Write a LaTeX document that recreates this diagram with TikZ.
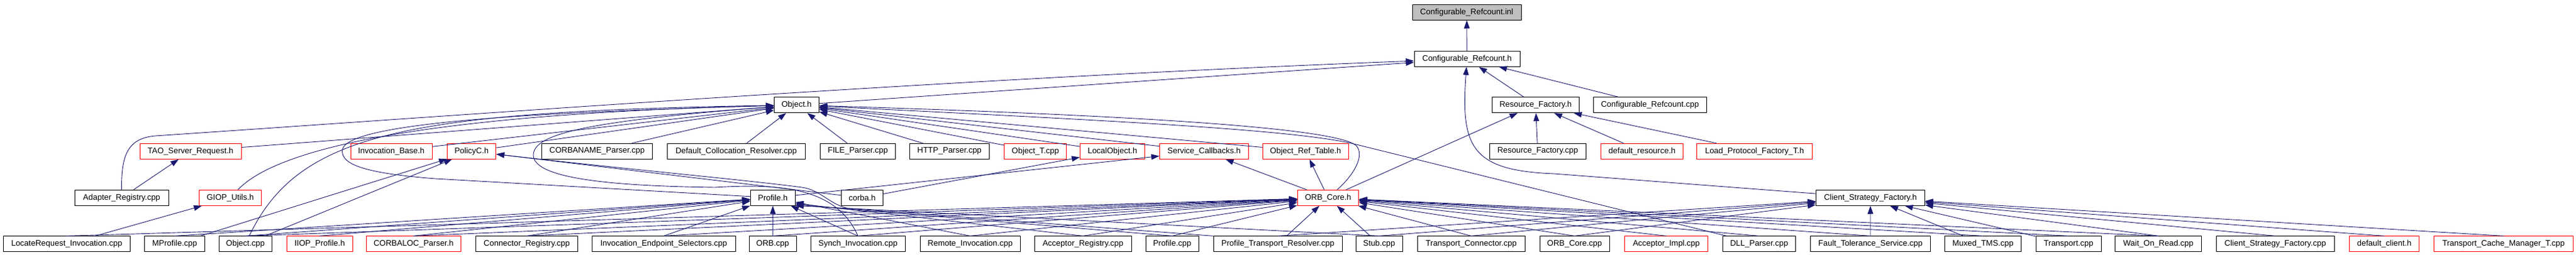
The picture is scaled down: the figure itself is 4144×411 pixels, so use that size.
\documentclass[tikz,border=0pt]{standalone}
\usepackage{fontspec}
\setmainfont{Liberation Sans}
\definecolor{edgeblue}{RGB}{25, 25, 112}
\definecolor{truncred}{RGB}{255, 0, 0}
\definecolor{rootgray}{RGB}{191, 191, 191}
\usetikzlibrary{arrows.meta}

\begin{document}
\begin{tikzpicture}[x=1pt, y=-1pt,
  hfile/.style={draw=black, line width=0.9pt, minimum height=25pt, inner sep=0pt, font=\fontsize{13}{15}\selectfont},
  trunc/.style={hfile, draw=truncred},
  rootfile/.style={hfile, fill=rootgray},
  dep/.style={color=edgeblue, draw, line width=0.9pt, arrows={Triangle[length=13pt, width=9pt]-}},
  every edge/.style={dep}]
  \useasboundingbox (0,0) rectangle (4144,411);

  % Root and its header
  \node[rootfile, minimum width=175pt] (inl) at (2359.5, 19.8) {Configurable\_Refcount.inl};
  \node[hfile, minimum width=170pt] (crh) at (2360, 94.8) {Configurable\_Refcount.h};

  % Second level
  \node[hfile, minimum width=72pt] (objh) at (1281.5, 169.2) {Object.h};
  \node[hfile, minimum width=140.6pt] (rfh) at (2470.3, 169.2) {Resource\_Factory.h};
  \node[hfile, minimum width=182.5pt] (crcpp) at (2654.3, 169.2) {Configurable\_Refcount.cpp};

  % Third level
  \node[trunc, minimum width=163pt] (tsr) at (306.5, 243.8) {TAO\_Server\_Request.h};
  \node[trunc, minimum width=131pt] (ibase) at (629.5, 243.8) {Invocation\_Base.h};
  \node[trunc, minimum width=78.2pt] (policyc) at (758.7, 243.8) {PolicyC.h};
  \node[hfile, minimum width=178pt] (cornp) at (960.5, 243.8) {CORBANAME\_Parser.cpp};
  \node[hfile, minimum width=222.5pt] (dcr) at (1184.3, 243.8) {Default\_Collocation\_Resolver.cpp};
  \node[hfile, minimum width=121pt] (filep) at (1380, 243.8) {FILE\_Parser.cpp};
  \node[hfile, minimum width=128.5pt] (httpp) at (1527.3, 243.8) {HTTP\_Parser.cpp};
  \node[trunc, minimum width=100pt] (objt) at (1665.6, 243.8) {Object\_T.cpp};
  \node[trunc, minimum width=104pt] (localobj) at (1789.5, 243.8) {LocalObject.h};
  \node[trunc, minimum width=143pt] (svccb) at (1937, 243.8) {Service\_Callbacks.h};
  \node[trunc, minimum width=138.6pt] (ortab) at (2100.3, 243.8) {Object\_Ref\_Table.h};
  \node[hfile, minimum width=154.6pt] (rfcpp) at (2473.7, 243.8) {Resource\_Factory.cpp};
  \node[trunc, minimum width=132.2pt] (defres) at (2641.5, 243.8) {default\_resource.h};
  \node[trunc, minimum width=186pt] (lpft) at (2822.5, 243.8) {Load\_Protocol\_Factory\_T.h};

  % Fourth level
  \node[hfile, minimum width=150.5pt] (adreg) at (195.7, 318.8) {Adapter\_Registry.cpp};
  \node[trunc, minimum width=100pt] (giop) at (370.5, 318.8) {GIOP\_Utils.h};
  \node[hfile, minimum width=72pt] (profh) at (1243.3, 318.8) {Profile.h};
  \node[hfile, minimum width=67pt] (corbah) at (1387, 318.8) {corba.h};
  \node[trunc, minimum width=98.4pt] (orbcoreh) at (2136.5, 318.8) {ORB\_Core.h};
  \node[hfile, minimum width=175pt] (csfh) at (3008.9, 318.8) {Client\_Strategy\_Factory.h};

  % Bottom row
  \node[hfile, minimum width=204pt] (lri) at (107.3, 393.3) {LocateRequest\_Invocation.cpp};
  \node[hfile, minimum width=97pt] (mprof) at (281, 393.3) {MProfile.cpp};
  \node[hfile, minimum width=85.5pt] (objcpp) at (394.8, 393.3) {Object.cpp};
  \node[trunc, minimum width=106pt] (iiop) at (514.3, 393.3) {IIOP\_Profile.h};
  \node[trunc, minimum width=152.2pt] (corbaloc) at (665.4, 393.3) {CORBALOC\_Parser.h};
  \node[hfile, minimum width=164pt] (connreg) at (847.4, 393.3) {Connector\_Registry.cpp};
  \node[hfile, minimum width=231.4pt] (ies) at (1067.7, 393.3) {Invocation\_Endpoint\_Selectors.cpp};
  \node[hfile, minimum width=76pt] (orbcpp) at (1243, 393.3) {ORB.cpp};
  \node[hfile, minimum width=151.6pt] (synch) at (1380.2, 393.3) {Synch\_Invocation.cpp};
  \node[hfile, minimum width=161.5pt] (remote) at (1560.7, 393.3) {Remote\_Invocation.cpp};
  \node[hfile, minimum width=156.5pt] (accreg) at (1742.2, 393.3) {Acceptor\_Registry.cpp};
  \node[hfile, minimum width=85.5pt] (profcpp) at (1885.7, 393.3) {Profile.cpp};
  \node[hfile, minimum width=207.5pt] (ptr) at (2055.7, 393.3) {Profile\_Transport\_Resolver.cpp};
  \node[hfile, minimum width=75pt] (stub) at (2218.6, 393.3) {Stub.cpp};
  \node[hfile, minimum width=173.6pt] (tconn) at (2366.8, 393.3) {Transport\_Connector.cpp};
  \node[hfile, minimum width=112pt] (orbcorecpp) at (2533, 393.3) {ORB\_Core.cpp};
  \node[trunc, minimum width=134.4pt] (accimpl) at (2680.6, 393.3) {Acceptor\_Impl.cpp};
  \node[hfile, minimum width=117pt] (dllp) at (2829.9, 393.3) {DLL\_Parser.cpp};
  \node[hfile, minimum width=193pt] (fts) at (3009, 393.3) {Fault\_Tolerance\_Service.cpp};
  \node[hfile, minimum width=122.8pt] (muxed) at (3189.9, 393.3) {Muxed\_TMS.cpp};
  \node[hfile, minimum width=105.6pt] (transport) at (3327.8, 393.3) {Transport.cpp};
  \node[hfile, minimum width=138.6pt] (wor) at (3472.1, 393.3) {Wait\_On\_Read.cpp};
  \node[hfile, minimum width=190pt] (csfcpp) at (3660.2, 393.3) {Client\_Strategy\_Factory.cpp};
  \node[trunc, minimum width=111.8pt] (defclient) at (3835.6, 393.3) {default\_client.h};
  \node[trunc, minimum width=224pt] (tcm) at (4027.5, 393.3) {Transport\_Cache\_Manager\_T.cpp};

  % Configurable_Refcount.h
  \path (inl) edge (crh);
  \path (crh) edge (objh) edge (rfh) edge (crcpp);
  \draw[dep] (crh) .. controls (1500,128) and (800,182) .. (250,219) .. controls (205,223) and (195,250) .. (adreg);
  \draw[dep] (crh) .. controls (2350,235) and (2365,275) .. (2500,280) -- (csfh);

  % Resource_Factory.h
  \path (rfh) edge (orbcoreh) edge (rfcpp) edge (defres) edge (lpft);

  % Object.h, from the right
  \path (objh) edge (httpp) edge (objt) edge (localobj) edge (svccb) edge (ortab);
  \draw[dep] (objh) .. controls (1800,185) and (2150,205) .. (2182,235) .. controls (2195,250) and (2180,280) .. (orbcoreh);
  \draw[dep] (objh) .. controls (1800,195) and (2060,208) .. (2170,230) -- (dllp);

  % Object.h, from the left
  \path (objh) edge (tsr) edge (ibase) edge (policyc) edge (cornp) edge (dcr) edge (filep);
  \draw[dep] (objh) .. controls (650,185) and (440,245) .. (giop);
  \draw[dep] (objh) .. controls (650,180) and (480,215) .. (objcpp);
  \draw[dep] (objh) .. controls (900,180) and (565,195) .. (551,240) .. controls (545,268) and (600,280) .. (700,288) -- (profh);
  \draw[dep] (objh) .. controls (950,195) and (858,215) .. (858,250) .. controls (858,290) and (1000,300) .. (1150,302) .. controls (1250,296) and (1345,300) .. (synch.north);

  % PolicyC.h
  \path (policyc) edge (mprof) edge (objcpp) edge (corbah);
  \draw[dep] (policyc) .. controls (1000,272) and (1200,290) .. (1290,302) .. controls (1320,306) and (1335,330) .. (1365,336) -- (ptr.north west);

  % LocalObject.h, Service_Callbacks.h, Object_Ref_Table.h
  \path (localobj) edge (corbah);
  \path (svccb) edge (profh) edge (orbcoreh);
  \path (ortab) edge (orbcoreh);

  % GIOP_Utils.h, TAO_Server_Request.h
  \path (giop) edge (lri);
  \path (tsr) edge (adreg);

  % Profile.h
  \path (profh) edge (mprof.north) edge (objcpp.north) edge (iiop.north) edge (corbaloc.north) edge (connreg.north)
    edge (ies.north) edge (orbcpp) edge (synch.north) edge (remote.north);
  \draw[dep] (profh.346) -- (accreg.north);
  \draw[dep] (profh.343) -- (profcpp.north);
  \draw[dep] (profh.341) -- (stub.north);

  % ORB_Core.h
  \path (orbcoreh) edge (lri.north) edge (objcpp.north) edge (corbaloc.north) edge (connreg.north) edge (ies.north)
    edge (orbcpp.north) edge (synch.north) edge (remote.north) edge (accreg.north) edge (profcpp.north)
    edge (ptr) edge (stub) edge (tconn.north) edge (orbcorecpp.north) edge (accimpl.north) edge (dllp.north)
    edge (fts.north) edge (muxed.north) edge (transport.north) edge (wor.north);

  % Client_Strategy_Factory.h
  \path (csfh) edge (ptr.north) edge (stub.north) edge (tconn.north) edge (orbcorecpp.north) edge (fts)
    edge (muxed) edge (transport) edge (wor.north) edge (csfcpp.north) edge (defclient.north) edge (tcm.north);
\end{tikzpicture}
\end{document}
